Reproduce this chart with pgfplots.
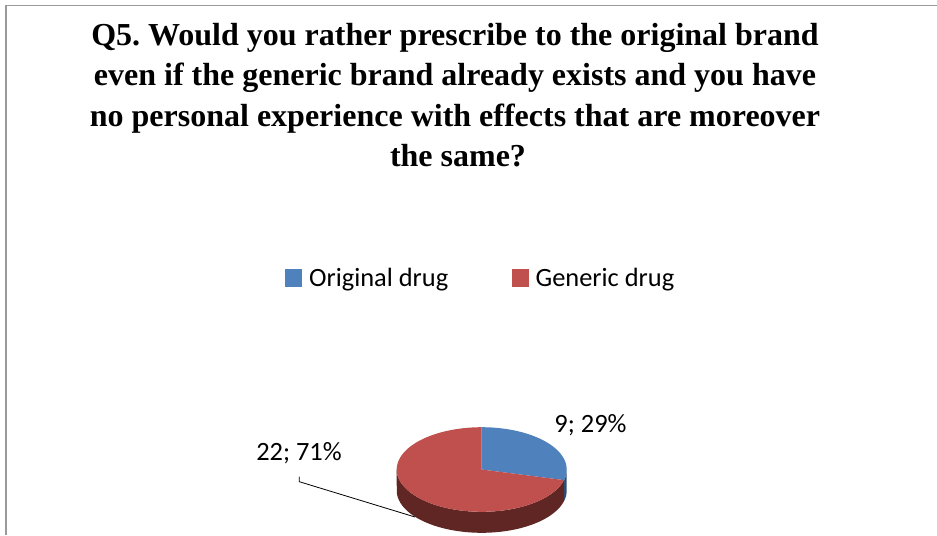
\documentclass[border=0pt]{standalone}
\usepackage{pgfplots}
\pgfplotsset{compat=1.18}
\usepackage{fontspec}
\setmainfont{Liberation Serif}
\newfontfamily\calibri{Carlito}
\definecolor{origblue}{HTML}{4F81BD}
\definecolor{genred}{HTML}{C0504D}
\definecolor{origside}{HTML}{2C4D75}
\definecolor{genside}{HTML}{5F2623}
\definecolor{frameg}{HTML}{9A9A9A}
% Survey counts behind the pie
\newcommand{\nOriginal}{9}
\newcommand{\nGeneric}{22}
\pgfmathsetmacro{\splitangle}{360*\nOriginal/(\nOriginal+\nGeneric)}
% Pie geometry, in the axis units
\def\cx{481.7}\def\cy{469.5}\def\rx{85}\def\ry{42.3}\def\dep{21}
\begin{document}
\begin{tikzpicture}
\begin{axis}[
  at={(0pt,0pt)}, anchor=south west,
  scale only axis, width=702.75pt, height=401.25pt,
  xmin=0, xmax=937, ymin=0, ymax=535, y dir=reverse,
  axis lines=none, clip=false,
  legend columns=2,
  legend style={draw=none, fill=none, at={(axis cs:481,278)}, anchor=center,
    font=\calibri\fontsize{19.8}{24}\selectfont,
    /tikz/every even column/.style={column sep=45.5pt},
    inner sep=0pt, outer sep=0pt},
  legend image code/.code={%
    \path[fill=none, draw=none] (0pt,-6.4pt) rectangle (16pt,6.4pt);
    \fill[#1] (0pt,-6.4pt) rectangle (12.75pt,6.4pt);},
]
% Chart frame (top and left edges only)
\addplot[forget plot, frameg, line width=1pt] coordinates {(6,535) (6,5.5) (937,5.5)};
% Side walls of the pie
\addplot[forget plot, fill=origside, draw=none, domain=0:2, samples=81, variable=\t]
  ({\cx+\rx*sin(ifthenelse(\t<=1, 90+(\splitangle-90)*\t, \splitangle-(\splitangle-90)*(\t-1)))},
   {\cy-\ry*cos(ifthenelse(\t<=1, 90+(\splitangle-90)*\t, \splitangle-(\splitangle-90)*(\t-1)))+ifthenelse(\t>1,\dep,0)}) -- cycle;
\addplot[forget plot, fill=genside, draw=none, domain=0:2, samples=161, variable=\t]
  ({\cx+\rx*sin(ifthenelse(\t<=1, \splitangle+(270-\splitangle)*\t, 270-(270-\splitangle)*(\t-1)))},
   {\cy-\ry*cos(ifthenelse(\t<=1, \splitangle+(270-\splitangle)*\t, 270-(270-\splitangle)*(\t-1)))+ifthenelse(\t>1,\dep,0)}) -- cycle;
% Top faces of the two slices
\addplot[fill=origblue, draw=none, domain=0:\splitangle, samples=60, variable=\t]
  ({\cx+\rx*sin(\t)},{\cy-\ry*cos(\t)}) -- (axis cs:\cx,\cy) -- cycle;
\addlegendentry{Original drug}
\addplot[fill=genred, draw=none, domain=\splitangle:360, samples=120, variable=\t]
  ({\cx+\rx*sin(\t)},{\cy-\ry*cos(\t)}) -- (axis cs:\cx,\cy) -- cycle;
\addlegendentry{Generic drug}
% Leader line of the larger slice
\addplot[forget plot, black, line width=0.6pt] coordinates {(299.3,476.7) (299.3,481.7) (415,517)};
% Title and data labels
\node[align=center, font=\frenchspacing\bfseries\fontsize{24}{30.4}\selectfont] at (axis cs:455,95)
  {Q5. Would you rather prescribe to the original brand\\
   even if the generic brand already exists and you have\\
   no personal experience with effects that are moreover\\
   \hspace*{4.5pt}the same?};
\node[font=\calibri\fontsize{19.8}{24}\selectfont] at (axis cs:590.5,425) {\nOriginal; 29\%};
\node[font=\calibri\fontsize{19.8}{24}\selectfont] at (axis cs:299,453) {\nGeneric; 71\%};
\end{axis}
\pgfresetboundingbox
\path[use as bounding box] (0pt,0pt) rectangle (702.75pt,401.25pt);
\end{tikzpicture}
\end{document}
